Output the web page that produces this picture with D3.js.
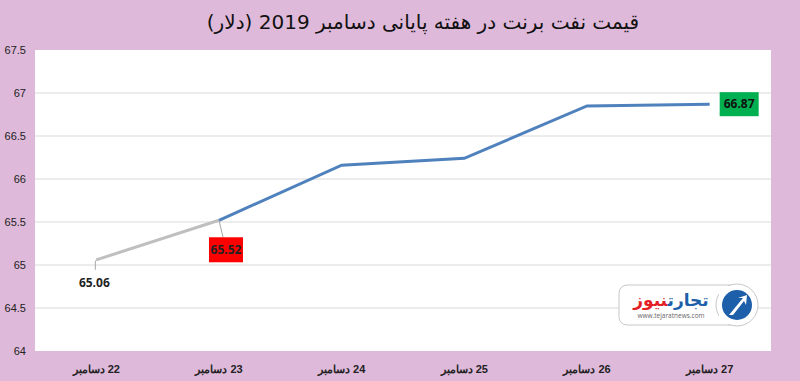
<!DOCTYPE html>
<html>
<head>
<meta charset="utf-8">
<script src="https://cdn.jsdelivr.net/npm/d3@7"></script>
<style>
  body { margin: 0; background: #dfb9da; }
  svg { display: block; font-family: "Open Sans", "DejaVu Sans", sans-serif; }
  .axis path, .axis line { display: none; }
</style>
</head>
<body>
<div id="graf"></div>
<script>
// datos del grafico
const titulo = "قیمت نفت برنت در هفته پایانی دسامبر 2019 (دلار)"
const dias = ["22 دسامبر", "23 دسامبر", "24 دسامبر", "25 دسامبر", "26 دسامبر", "27 دسامبر"]
const precios = [65.06, 65.52, 66.16, 66.24, 66.85, 66.87]
const ticksY = [64, 64.5, 65, 65.5, 66, 66.5, 67, 67.5]

const anchoTotal = 800
const altoTotal = 381
const margins = { top: 50, right: 29, bottom: 30, left: 35 }
const ancho = anchoTotal - margins.left - margins.right
const alto = altoTotal - margins.top - margins.bottom

const svg = d3.select("#graf")
  .append("svg")
  .attr("width", anchoTotal)
  .attr("height", altoTotal)

svg.append("rect")
  .attr("width", anchoTotal)
  .attr("height", altoTotal)
  .attr("fill", "#dfb9da")

// titulo
svg.append("text")
  .attr("x", 423)
  .attr("y", 29)
  .attr("text-anchor", "middle")
  .attr("direction", "rtl")
  .style("font-size", "20px")
  .style("font-family", "'DejaVu Sans', sans-serif")
  .attr("fill", "#111")
  .text(titulo)

const g = svg.append("g")
  .attr("transform", `translate(${margins.left}, ${margins.top})`)

g.append("rect")
  .attr("width", ancho)
  .attr("height", alto)
  .attr("fill", "white")

// escaladores
const y = d3.scaleLinear()
  .domain([d3.min(ticksY), d3.max(ticksY)])
  .range([alto, 0])

const x = d3.scaleBand()
  .domain(dias)
  .range([0, ancho])

const cx = (i) => x(dias[i]) + x.bandwidth() / 2

// lineas de la grilla
g.selectAll(".grid")
  .data(ticksY.slice(1, -1))
  .enter()
  .append("line")
  .attr("x1", 0)
  .attr("x2", ancho)
  .attr("y1", d => y(d))
  .attr("y2", d => y(d))
  .attr("stroke", "#d9d9d9")
  .attr("stroke-width", 1)

// ejes
const yAxis = d3.axisLeft(y).tickValues(ticksY).tickFormat(d3.format("")).tickSize(0).tickPadding(9)
g.append("g").classed("axis", true).call(yAxis)
  .selectAll("text")
  .style("font-size", "11px")
  .attr("fill", "#222")

const xAxis = d3.axisBottom(x).tickSize(0).tickPadding(14)
g.append("g").classed("axis", true)
  .attr("transform", `translate(0, ${alto})`)
  .call(xAxis)
  .selectAll("text")
  .style("font-size", "11px")
  .style("font-weight", "bold")
  .attr("direction", "rtl")
  .attr("fill", "#222")

// linea
const line = d3.line()
  .x((d, i) => cx(i))
  .y(d => y(d))

g.append("path")
  .datum(precios.slice(0, 2))
  .attr("d", line)
  .attr("fill", "none")
  .attr("stroke", "#bfbfbf")
  .attr("stroke-width", 3)

g.append("path")
  .datum(precios.slice(1))
  .attr("d", d3.line().x((d, i) => cx(i + 1)).y(d => y(d)))
  .attr("fill", "none")
  .attr("stroke", "#4f81bd")
  .attr("stroke-width", 3)

// etiquetas
const fmt = d3.format(".2f")

// primer punto: texto debajo con linea guia
g.append("path")
  .attr("d", `M${cx(0)},${y(precios[0])} L${cx(0) - 1},${y(precios[0]) + 2} L${cx(0) - 1},${y(precios[0]) + 10}`)
  .attr("fill", "none")
  .attr("stroke", "#a6a6a6")
g.append("text")
  .attr("x", cx(0) - 2)
  .attr("y", y(precios[0]) + 27)
  .attr("text-anchor", "middle")
  .style("font-size", "12px")
  .style("font-weight", "bold")
  .attr("fill", "#222")
  .text(fmt(precios[0]))

// segundo punto: caja roja
const b1x = cx(1) - 10, b1y = y(precios[1]) + 17
g.append("path")
  .attr("d", `M${cx(1)},${y(precios[1])} L${cx(1) + 4},${b1y}`)
  .attr("stroke", "#a6a6a6")
g.append("rect")
  .attr("x", b1x)
  .attr("y", b1y)
  .attr("width", 34)
  .attr("height", 25)
  .attr("fill", "#ff0000")
g.append("text")
  .attr("x", b1x + 17)
  .attr("y", b1y + 17)
  .attr("text-anchor", "middle")
  .style("font-size", "12px")
  .style("font-weight", "bold")
  .attr("fill", "#222")
  .text(fmt(precios[1]))

// ultimo punto: caja verde
const last = precios.length - 1
const b2x = cx(last) + 10, b2y = y(precios[last]) - 12
g.append("rect")
  .attr("x", b2x)
  .attr("y", b2y)
  .attr("width", 39)
  .attr("height", 24)
  .attr("fill", "#00b050")
g.append("text")
  .attr("x", b2x + 19.5)
  .attr("y", b2y + 16)
  .attr("text-anchor", "middle")
  .style("font-size", "12px")
  .style("font-weight", "bold")
  .attr("fill", "#111")
  .text(fmt(precios[last]))

// logo
const logo = svg.append("g").attr("transform", "translate(619, 285)")
logo.append("rect")
  .attr("x", 0).attr("y", 0)
  .attr("width", 120).attr("height", 40)
  .attr("rx", 8)
  .attr("fill", "white")
  .attr("stroke", "#c8c8c8")
logo.append("circle")
  .attr("cx", 118).attr("cy", 20).attr("r", 21)
  .attr("fill", "white")
  .attr("stroke", "#c8c8c8")
logo.append("rect")
  .attr("x", 100).attr("y", 1).attr("width", 20).attr("height", 38)
  .attr("fill", "white")
logo.append("circle")
  .attr("cx", 118).attr("cy", 20).attr("r", 15)
  .attr("fill", "#1d5fa8")
logo.append("path")
  .attr("d", "M110,30 L124,13 L119,13 L128,10 L127,20 L125,16 L114,30 Z")
  .attr("fill", "white")
logo.append("text")
  .attr("x", 52).attr("y", 21)
  .attr("text-anchor", "middle")
  .attr("direction", "rtl")
  .style("font-size", "17px")
  .style("font-weight", "bold")
  .style("font-family", "'DejaVu Sans', sans-serif")
  .html('<tspan fill="#1d5fa8">تجارت</tspan><tspan fill="#e31e24">نیوز</tspan>')
logo.append("text")
  .attr("x", 52).attr("y", 33)
  .attr("text-anchor", "middle")
  .style("font-size", "6.5px")
  .attr("fill", "#666")
  .text("www.tejaratnews.com")
</script>
</body>
</html>
